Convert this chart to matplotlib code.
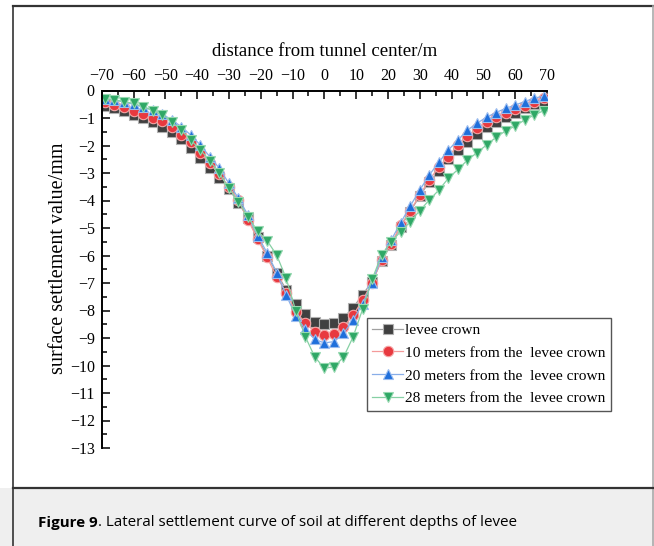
import numpy as np
import matplotlib
matplotlib.use("Agg")
import matplotlib.pyplot as plt
from matplotlib.patches import Rectangle
from matplotlib.lines import Line2D
from matplotlib.ticker import MultipleLocator

# distance from tunnel center (m)
x = np.arange(-69, 70, 3)

crown = [-0.55, -0.65, -0.74, -0.88, -0.99, -1.14, -1.31, -1.50, -1.78, -2.10,
         -2.47, -2.83, -3.19, -3.59, -4.08, -4.65, -5.34, -6.02, -6.62, -7.25,
         -7.77, -8.14, -8.42, -8.49, -8.46, -8.26, -7.90, -7.43, -6.95, -6.20,
         -5.60, -4.95, -4.40, -3.84, -3.32, -2.93, -2.50, -2.16, -1.86, -1.58,
         -1.31, -1.13, -0.95, -0.80, -0.65, -0.49, -0.37]
m10 = [-0.42, -0.52, -0.61, -0.75, -0.84, -1.00, -1.12, -1.31, -1.60, -1.86,
       -2.28, -2.65, -3.05, -3.50, -3.99, -4.71, -5.40, -6.07, -6.77, -7.35,
       -8.04, -8.45, -8.78, -8.90, -8.85, -8.60, -8.18, -7.63, -7.00, -6.15,
       -5.58, -4.90, -4.37, -3.80, -3.25, -2.79, -2.41, -1.98, -1.65, -1.38,
       -1.13, -0.97, -0.83, -0.68, -0.56, -0.40, -0.28]
m20 = [-0.30, -0.34, -0.42, -0.50, -0.60, -0.70, -0.85, -1.07, -1.31, -1.62,
       -1.98, -2.41, -2.83, -3.38, -3.92, -4.53, -5.28, -5.90, -6.62, -7.44,
       -8.19, -8.68, -9.05, -9.18, -9.13, -8.83, -8.36, -7.75, -7.00, -6.05,
       -5.44, -4.81, -4.20, -3.62, -3.07, -2.61, -2.16, -1.80, -1.44, -1.19,
       -0.97, -0.80, -0.65, -0.53, -0.40, -0.28, -0.20]
m28 = [-0.32, -0.35, -0.40, -0.47, -0.59, -0.73, -0.89, -1.13, -1.44, -1.80,
       -2.16, -2.55, -3.01, -3.56, -4.04, -4.59, -5.11, -5.46, -5.98, -6.83,
       -8.00, -8.95, -9.69, -10.10, -10.05, -9.70, -8.97, -7.96, -6.87, -5.98,
       -5.50, -5.13, -4.77, -4.37, -3.98, -3.62, -3.19, -2.87, -2.53, -2.26,
       -1.98, -1.70, -1.47, -1.29, -1.07, -0.89, -0.73]

labels = ["levee crown", "10 meters from the  levee crown",
          "20 meters from the  levee crown", "28 meters from the  levee crown"]

plt.rcParams['font.family'] = ['Liberation Serif', 'DejaVu Serif']

fig = plt.figure(figsize=(6.54, 5.46), dpi=100)

# outer frame and caption band
W, H = 654.0, 546.0
fig.patches.append(Rectangle((0, 0), 1, 1 - 488 / H, transform=fig.transFigure,
                             facecolor='#efefef', edgecolor='none', zorder=0))
fig.add_artist(Line2D([13 / W, 13 / W], [0, 1 - 6 / H], color='#333333', lw=1.2))
fig.add_artist(Line2D([13 / W, 653 / W], [1 - 6 / H, 1 - 6 / H], color='#333333', lw=1.6))
fig.add_artist(Line2D([652.5 / W, 652.5 / W], [0, 1 - 6 / H], color='#aaaaaa', lw=1.2))
fig.add_artist(Line2D([13 / W, 653 / W], [1 - 488 / H, 1 - 488 / H], color='#333333', lw=1.6))

cap_font = ['Open Sans', 'DejaVu Sans']
t1 = fig.text(38 / W, 1 - 523 / H, "Figure 9", family=cap_font, weight='bold',
              fontsize=10.9, va='center', ha='left')
fig.canvas.draw()
bb = t1.get_window_extent()
fig.text(bb.x1 / W, 1 - 523 / H, ". Lateral settlement curve of soil at different depths of levee",
         family=cap_font, fontsize=10.9, va='center', ha='left')

ax = fig.add_axes([101.7 / W, 1 - 448 / H, (547 - 101.7) / W, (448 - 90.5) / H])

styles = [
    dict(marker='s', color='#a0a0a0', mfc='#404040', mec='#b0b0b0'),
    dict(marker='o', color='#f49a9a', mfc='#e8393f', mec='#f5a5a5'),
    dict(marker='^', color='#88aee8', mfc='#1f6fdb', mec='#9bbcef'),
    dict(marker='v', color='#86d0a4', mfc='#2fa866', mec='#96d8b0'),
]
for ys, lab, st in zip([crown, m10, m20, m28], labels, styles):
    ax.plot(x, ys, lw=0.9, ms=7.5, mew=0.8, label=lab, **st)

ax.set_xlim(-70, 70)
ax.set_ylim(-13, 0)
ax.xaxis.set_major_locator(MultipleLocator(10))
ax.xaxis.set_minor_locator(MultipleLocator(5))
ax.yaxis.set_major_locator(MultipleLocator(1))
ax.yaxis.set_minor_locator(MultipleLocator(0.5))

ax.spines['right'].set_visible(False)
ax.spines['bottom'].set_visible(False)
ax.spines['top'].set_linewidth(1.4)
ax.spines['left'].set_linewidth(1.4)
ax.xaxis.tick_top()
ax.xaxis.set_label_position('top')
ax.tick_params(which='both', direction='in', width=1.1, labelsize=11.5)
ax.tick_params(which='major', length=6, pad=5)
ax.tick_params(which='minor', length=3.5)
ax.tick_params(axis='y', pad=5)

ax.set_xlabel("distance from tunnel center/m", fontsize=13.5, labelpad=8)
ax.set_ylabel("surface settlement value/mm", fontsize=14.5)
ax.yaxis.set_label_coords(-0.076, 0.53)

leg = ax.legend(loc='upper left', bbox_to_anchor=(0.596, 0.364), borderaxespad=0,
                fontsize=11.1, frameon=True, fancybox=False, framealpha=1,
                edgecolor='#555555', handlelength=2.0, handletextpad=0.1,
                labelspacing=0.58, borderpad=0.35)
leg.get_frame().set_linewidth(1.0)
leg.set_clip_on(False)

fig.savefig("out.png", dpi=100)
